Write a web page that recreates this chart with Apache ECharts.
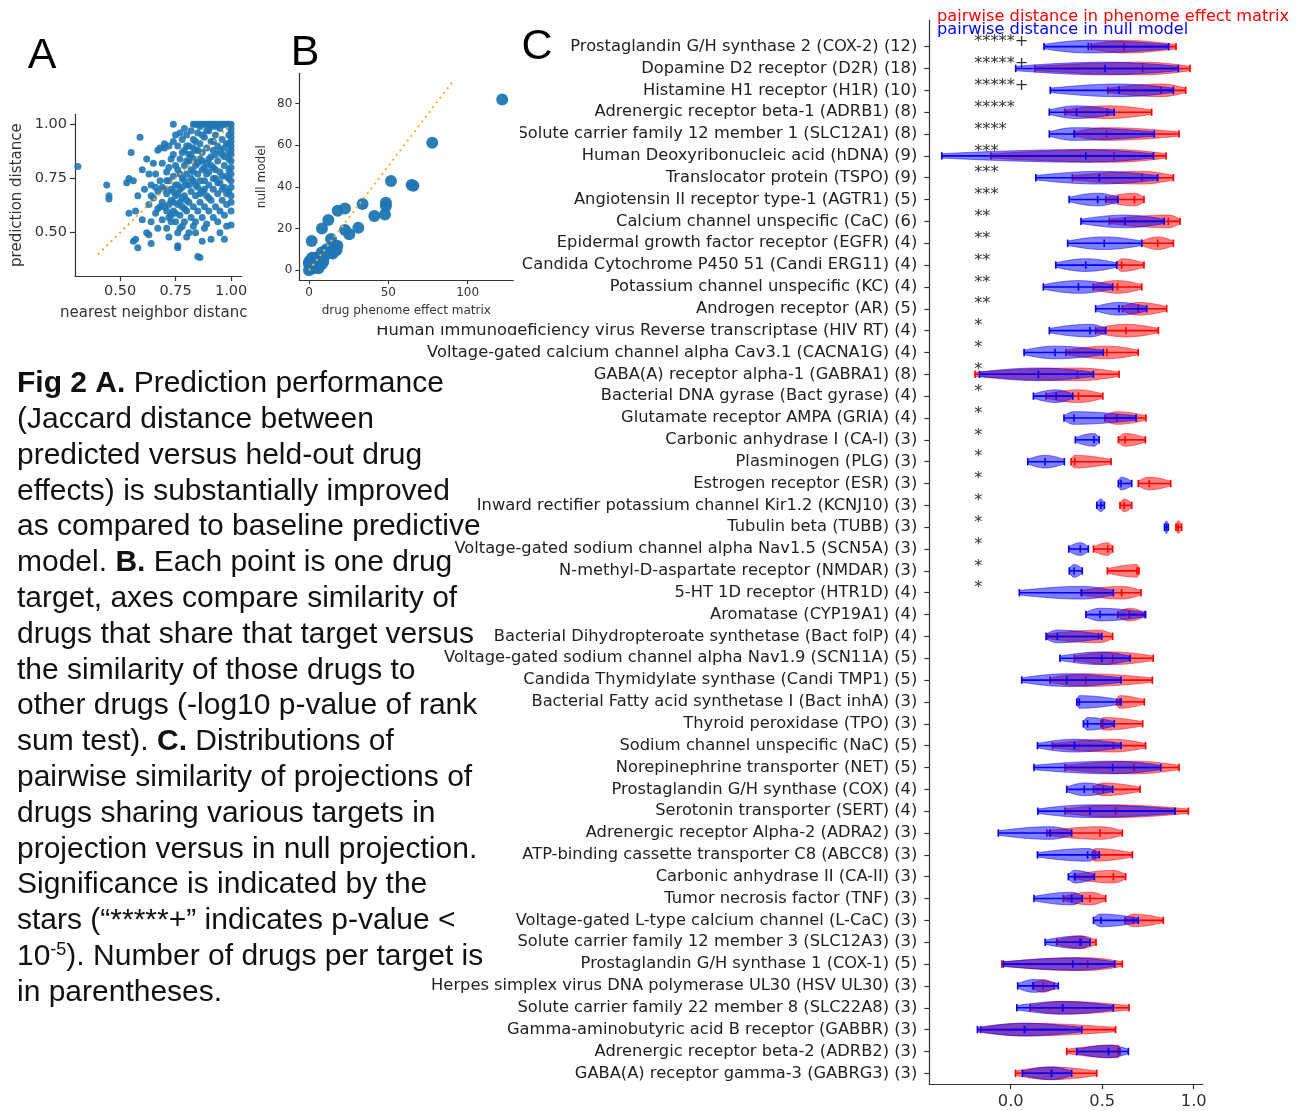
<!DOCTYPE html>
<html><head><meta charset="utf-8">
<script src="https://cdn.jsdelivr.net/npm/echarts@6/dist/echarts.min.js"></script>
<style>html,body{margin:0;padding:0;background:#fff}#c{width:1297px;height:1111px}</style>
</head><body><div id="c"></div>
<script>
// ---------- Panel A data: [nearest neighbor distance, prediction distance]
const panelA = [
[0.83,1.00],[0.84,1.00],[0.85,1.00],[0.86,1.00],[0.87,1.00],[0.88,1.00],[0.89,1.00],[0.90,1.00],[0.91,1.00],[0.92,1.00],[0.93,1.00],[0.94,1.00],[0.95,1.00],[0.96,1.00],[0.97,1.00],[0.98,1.00],[0.99,1.00],[1.00,1.00],
[1.00,0.98],[1.00,0.96],[1.00,0.94],[1.00,0.92],[1.00,0.90],[1.00,0.88],[1.00,0.86],[1.00,0.83],[1.00,0.80],[1.00,0.77],[1.00,0.74],[1.00,0.71],[1.00,0.67],[1.00,0.64],[1.00,0.60],[1.00,0.535],
[0.99,0.99],[0.99,0.95],[0.99,0.91],[0.99,0.87],[0.99,0.79],[0.99,0.75],[0.99,0.69],
[0.70,0.62],[0.71,0.68],[0.71,0.74],[0.72,0.57],[0.72,0.80],[0.73,0.65],[0.73,0.70],[0.74,0.60],[0.74,0.76],[0.74,0.86],[0.75,0.55],[0.75,0.67],[0.75,0.72],[0.76,0.63],[0.76,0.79],[0.76,0.90],[0.77,0.58],[0.77,0.70],[0.77,0.84],[0.78,0.62],[0.78,0.75],[0.78,0.93],[0.79,0.55],[0.79,0.67],[0.79,0.81],[0.79,0.88],[0.80,0.60],[0.80,0.72],[0.80,0.77],[0.80,0.95],[0.81,0.64],[0.81,0.83],[0.81,0.90],[0.82,0.57],[0.82,0.69],[0.82,0.79],[0.82,0.86],[0.83,0.62],[0.83,0.74],[0.83,0.93],[0.84,0.55],[0.84,0.67],[0.84,0.81],[0.84,0.88],[0.85,0.60],[0.85,0.71],[0.85,0.77],[0.85,0.96],[0.86,0.64],[0.86,0.84],[0.86,0.91],[0.87,0.57],[0.87,0.69],[0.87,0.79],[0.87,0.87],[0.88,0.62],[0.88,0.74],[0.88,0.94],[0.89,0.54],[0.89,0.67],[0.89,0.82],[0.89,0.89],[0.90,0.60],[0.90,0.72],[0.90,0.78],[0.90,0.97],[0.91,0.65],[0.91,0.85],[0.91,0.92],[0.92,0.57],[0.92,0.70],[0.92,0.80],[0.92,0.88],[0.93,0.62],[0.93,0.75],[0.93,0.95],[0.94,0.55],[0.94,0.68],[0.94,0.83],[0.94,0.90],[0.95,0.60],[0.95,0.73],[0.95,0.78],[0.95,0.98],[0.96,0.65],[0.96,0.86],[0.96,0.93],[0.97,0.58],[0.97,0.71],[0.97,0.81],[0.98,0.63],[0.98,0.76],[0.98,0.91],
[0.55,0.87],[0.56,0.74],[0.57,0.60],[0.58,0.67],[0.59,0.94],[0.60,0.56],[0.60,0.79],[0.61,0.70],[0.62,0.84],[0.62,0.50],[0.63,0.63],[0.63,0.77],[0.64,0.55],[0.64,0.72],[0.65,0.66],[0.65,0.82],[0.66,0.59],[0.66,0.77],[0.67,0.52],[0.67,0.69],[0.67,0.88],[0.68,0.62],[0.68,0.74],[0.69,0.56],[0.69,0.82],[0.70,0.89],[0.71,0.52],[0.72,0.90],[0.73,0.55],[0.75,0.95],[0.76,0.50],[0.78,0.53],[0.81,0.50],[0.83,0.53],
[0.44,0.72],[0.45,0.67],[0.45,0.655],[0.53,0.73],[0.54,0.75],[0.54,0.59],[0.56,0.46],[0.57,0.47],[0.58,0.43],[0.63,0.49],[0.64,0.45],[0.72,0.48],[0.76,0.44],[0.76,0.43],[0.77,0.52],[0.80,0.48],[0.84,0.50],[0.85,0.39],[0.86,0.385],[0.87,0.46],[0.88,0.52],[0.91,0.47],[0.95,0.50],[0.97,0.47],[0.98,0.53],[0.31,0.805],[0.74,1.00],[0.68,0.89],[0.70,0.91],[0.74,0.92],[0.77,0.96],[0.79,0.98],
[0.72,0.63],[0.74,0.69],[0.76,0.72],[0.78,0.66],[0.80,0.83],[0.83,0.84],[0.85,0.82],[0.86,0.74],[0.88,0.80],[0.90,0.84],[0.92,0.92],[0.93,0.86],[0.96,0.76],[0.97,0.89],[0.99,0.84],[0.87,0.95],[0.89,0.97],[0.91,0.99],[0.93,0.99],[0.82,0.97],[0.84,0.92],[0.86,0.99],[0.80,0.90],[0.78,0.87],[0.83,0.78],[0.81,0.72],[0.79,0.61],[0.77,0.64],[0.75,0.59],[0.73,0.58],[0.71,0.60],[0.69,0.64],[0.67,0.61],[0.66,0.71],[0.64,0.67],
[0.70,0.70],[0.72,0.74],[0.74,0.64],[0.76,0.68],[0.78,0.71],[0.80,0.65],[0.82,0.75],[0.84,0.72],[0.86,0.68],[0.88,0.70],[0.90,0.66],[0.92,0.75],[0.94,0.73],[0.96,0.70],[0.98,0.68],[0.85,0.88],[0.87,0.83],[0.89,0.77],[0.91,0.81],[0.93,0.79],[0.95,0.88],[0.97,0.85],[0.83,0.89],[0.81,0.86],[0.79,0.74],[0.77,0.77],[0.75,0.81],[0.73,0.84],[0.71,0.78],[0.69,0.71]
];
const diagA = [[0.4,0.4],[1.0,1.0]];

// ---------- Panel B data: [drug phenome effect matrix, null model]
const panelB = [
[121.8,81.9],[77.7,61.2],[64.7,40.9],[65.8,40.6],[51.7,42.8],[48.5,32.4],[48.5,30.8],[47.9,26.8],[41.2,26.0],[33.8,31.8],[31.1,20.4],[22.7,19.3],[25.4,17.3],[22.7,29.7],[18.1,28.6],[12.2,24.1],[8.2,20.1],[1.7,14.1],[17.9,11.8],[17.4,9.7],[14.9,8.9],[11.1,10.1],[10.1,9.3],[13.9,15.0],[8.0,8.5],
[0,0],[0,3],[0,4],[1,5],[2,2],[2,6],[3,4],[4,6],[5,2],[6,3],[7,5],[8,3],[1,1],[3,1],[4,3],[6,1],[9,4],[10,7],[12,9],[15,8],[17,10],[16,12]
];
const diagB = [[0,0],[90,90]];

// ---------- Panel C data
const targets = [
"Prostaglandin G/H synthase 2 (COX-2) (12)","Dopamine D2 receptor (D2R) (18)","Histamine H1 receptor (H1R) (10)","Adrenergic receptor beta-1 (ADRB1) (8)",
"Solute carrier family 12 member 1 (SLC12A1) (8)","Human Deoxyribonucleic acid (hDNA) (9)","Translocator protein (TSPO) (9)","Angiotensin II receptor type-1 (AGTR1) (5)",
"Calcium channel unspecific (CaC) (6)","Epidermal growth factor receptor (EGFR) (4)","Candida Cytochrome P450 51 (Candi ERG11) (4)","Potassium channel unspecific (KC) (4)",
"Androgen receptor (AR) (5)","Human immunodeficiency virus Reverse transcriptase (HIV RT) (4)","Voltage-gated calcium channel alpha Cav3.1 (CACNA1G) (4)","GABA(A) receptor alpha-1 (GABRA1) (8)",
"Bacterial DNA gyrase (Bact gyrase) (4)","Glutamate receptor AMPA (GRIA) (4)","Carbonic anhydrase I (CA-I) (3)","Plasminogen (PLG) (3)",
"Estrogen receptor (ESR) (3)","Inward rectifier potassium channel Kir1.2 (KCNJ10) (3)","Tubulin beta (TUBB) (3)","Voltage-gated sodium channel alpha Nav1.5 (SCN5A) (3)",
"N-methyl-D-aspartate receptor (NMDAR) (3)","5-HT 1D receptor (HTR1D) (4)","Aromatase (CYP19A1) (4)","Bacterial Dihydropteroate synthetase (Bact folP) (4)",
"Voltage-gated sodium channel alpha Nav1.9 (SCN11A) (5)","Candida Thymidylate synthase (Candi TMP1) (5)","Bacterial Fatty acid synthetase I (Bact inhA) (3)","Thyroid peroxidase (TPO) (3)",
"Sodium channel unspecific (NaC) (5)","Norepinephrine transporter (NET) (5)","Prostaglandin G/H synthase (COX) (4)","Serotonin transporter (SERT) (4)",
"Adrenergic receptor Alpha-2 (ADRA2) (3)","ATP-binding cassette transporter C8 (ABCC8) (3)","Carbonic anhydrase II (CA-II) (3)","Tumor necrosis factor (TNF) (3)",
"Voltage-gated L-type calcium channel (L-CaC) (3)","Solute carrier family 12 member 3 (SLC12A3) (3)","Prostaglandin G/H synthase 1 (COX-1) (5)","Herpes simplex virus DNA polymerase UL30 (HSV UL30) (3)",
"Solute carrier family 22 member 8 (SLC22A8) (3)","Gamma-aminobutyric acid B receptor (GABBR) (3)","Adrenergic receptor beta-2 (ADRB2) (3)","GABA(A) receptor gamma-3 (GABRG3) (3)"
];
const stars = ["*****+","*****+","*****+","*****","****","***","***","***","**","**","**","**","**",
"*","*","*","*","*","*","*","*","*","*","*","*","*"];

const nullMin = [0.182,0.027,0.216,0.211,0.211,-0.377,0.137,0.319,0.384,0.311,0.246,0.178,0.464,0.211,0.073,-0.171,0.124,0.291,0.353,0.093,0.588,0.470,0.840,0.317,0.320,0.047,0.411,0.193,0.269,0.060,0.361,0.397,0.146,0.127,0.306,0.148,-0.068,0.146,0.315,0.127,0.452,0.188,-0.040,0.038,0.033,-0.182,0.361,0.064];
const nullMed = [0.424,0.515,0.592,0.360,0.346,0.410,0.484,0.475,0.625,0.511,0.410,0.370,0.592,0.433,0.242,0.151,0.248,0.346,0.455,0.187,0.603,0.493,0.850,0.380,0.346,0.388,0.488,0.255,0.497,0.306,0.375,0.420,0.348,0.557,0.402,0.433,0.215,0.420,0.351,0.333,0.493,0.379,0.339,0.124,0.284,0.075,0.534,0.224];
const nullMax = [0.863,0.916,0.889,0.565,0.785,0.780,0.803,0.586,0.839,0.716,0.579,0.557,0.743,0.519,0.506,0.452,0.339,0.685,0.483,0.293,0.661,0.512,0.861,0.424,0.391,0.561,0.737,0.497,0.652,0.603,0.603,0.566,0.603,0.820,0.557,0.898,0.333,0.484,0.457,0.391,0.697,0.433,0.568,0.260,0.561,0.388,0.643,0.333];
const phenMin = [0.440,0.133,0.530,0.297,0.350,-0.108,0.337,0.519,0.539,0.716,0.579,0.451,0.610,0.464,0.302,-0.195,0.193,0.515,0.588,0.330,0.697,0.597,0.903,0.452,0.528,0.385,0.585,0.197,0.348,0.215,0.579,0.493,0.228,0.297,0.452,0.297,0.197,0.446,0.348,0.288,0.625,0.251,-0.049,0.120,0.106,-0.164,0.306,0.026];
const phenMed = [0.619,0.721,0.820,0.528,0.524,0.565,0.716,0.676,0.861,0.803,0.606,0.583,0.697,0.630,0.525,0.364,0.370,0.579,0.625,0.350,0.757,0.620,0.915,0.530,0.690,0.606,0.648,0.479,0.557,0.410,0.595,0.503,0.561,0.674,0.506,0.573,0.488,0.460,0.561,0.433,0.670,0.385,0.420,0.178,0.284,0.075,0.588,0.220];
const phenMax = [0.903,0.980,0.956,0.770,0.920,0.849,0.889,0.728,0.925,0.889,0.728,0.716,0.852,0.807,0.697,0.592,0.503,0.739,0.736,0.548,0.874,0.661,0.934,0.557,0.701,0.712,0.733,0.557,0.779,0.774,0.730,0.721,0.737,0.920,0.707,0.971,0.610,0.665,0.628,0.519,0.834,0.466,0.610,0.238,0.646,0.573,0.597,0.470];

const ticksA = [0.5,0.75,1.0];
const ticksBx = [0,50,100];
const ticksBy = [0,20,40,60,80];
const ticksC = [0,0.5,1.0];

const caption = [
"{b|Fig 2 A.} Prediction performance",
"(Jaccard distance between",
"predicted versus held-out drug",
"effects) is substantially improved",
"as compared to baseline predictive",
"model. {b|B.} Each point is one drug",
"target, axes compare similarity of",
"drugs that share that target versus",
"the similarity of those drugs to",
"other drugs (-log10 p-value of rank",
"sum test). {b|C.} Distributions of",
"pairwise similarity of projections of",
"drugs sharing various targets in",
"projection versus in null projection.",
"Significance is indicated by the",
"stars (\u201c*****+\u201d indicates p-value <",
"10{sup|-5}). Number of drugs per target is",
"in parentheses."
];

// ---------- rendering
const DJ = 'DejaVu Sans';
const LS = 'Liberation Sans, Arial, sans-serif';
const AX = '#333';
const LBL = 16.3;
const rowIdx = targets.map((_, i) => i);
const nullData = targets.map((_, i) => [i, nullMin[i], nullMed[i], nullMax[i]]);
const phenData = targets.map((_, i) => [i, phenMin[i], phenMed[i], phenMax[i]]);
const starData = stars.map((s, i) => [i, 0]);

function violin(line, fill) {
  return function (params, api) {
    const r = api.value(0), mn = api.value(1), md = api.value(2), mx = api.value(3);
    const hw = api.size([0, 0.29])[1];
    const cap = api.size([0, 0.17])[1];
    const N = 40, top = [], bot = [];
    for (let k = 0; k <= N; k++) {
      const v = mn + (mx - mn) * k / N;
      let u;
      if (v <= md) u = md > mn ? (v - mn) / (md - mn) : 1;
      else u = mx > md ? (mx - v) / (mx - md) : 1;
      const w = hw * (0.35 + 0.65 * Math.sin(Math.min(1, u) * Math.PI / 2));
      const p = api.coord([v, r]);
      top.push([p[0], p[1] - w]);
      bot.push([p[0], p[1] + w]);
    }
    const pts = top.concat(bot.reverse());
    const a = api.coord([mn, r]), b = api.coord([mx, r]), m = api.coord([md, r]);
    const ls = { stroke: line, lineWidth: 1.6 };
    return { type: 'group', children: [
      { type: 'polygon', shape: { points: pts, smooth: 0 }, style: { fill: fill, stroke: fill, lineWidth: 1 } },
      { type: 'line', shape: { x1: a[0], y1: a[1], x2: b[0], y2: b[1] }, style: ls },
      { type: 'line', shape: { x1: a[0], y1: a[1] - cap, x2: a[0], y2: a[1] + cap }, style: ls },
      { type: 'line', shape: { x1: b[0], y1: b[1] - cap, x2: b[0], y2: b[1] + cap }, style: ls },
      { type: 'line', shape: { x1: m[0], y1: m[1] - cap, x2: m[0], y2: m[1] + cap }, style: ls }
    ]};
  };
}

const STAR_X = -0.2;
function starRender(params, api) {
  const p = api.coord([STAR_X, api.value(0)]);
  return { type: 'text', x: p[0], y: p[1] + 3.5,
    style: { text: stars[params.dataIndex], fill: '#333', fontSize: LBL, fontFamily: DJ, align: 'left', verticalAlign: 'bottom' } };
}

function valAxis(o) {
  return Object.assign({
    type: 'value', splitLine: { show: false },
    axisLine: { show: true, onZero: false, lineStyle: { color: AX, width: 1.2 } },
    axisTick: { show: true, length: 5, lineStyle: { color: AX, width: 1.2 } },
  }, o);
}

const graphics = [];
caption.forEach((t, i) => {
  graphics.push({ type: 'text', x: 17, y: 384 + i * 35.8, z: 1,
    style: { text: t, fill: '#111', fontSize: 30, fontFamily: LS, verticalAlign: 'middle', align: 'left',
      rich: { b: { fontWeight: 'bold', fontSize: 30, fontFamily: LS, fill: '#111' },
              sup: { fontSize: 18, fontFamily: LS, fill: '#111', verticalAlign: 'top', padding: [0, 0, 13, 0] } } } });
});
graphics.push({ type: 'text', x: 42, y: 56, style: { text: 'A', fontSize: 43, fontFamily: LS, fill: '#000', align: 'center', verticalAlign: 'middle' } });
graphics.push({ type: 'text', x: 305, y: 53, z: 8, style: { text: 'B', fontSize: 43, fontFamily: LS, fill: '#000', align: 'center', verticalAlign: 'middle' } });
graphics.push({ type: 'text', x: 537, y: 47, style: { text: 'C', fontSize: 43, fontFamily: LS, fill: '#000', align: 'center', verticalAlign: 'middle' } });
// white backdrop of panel B image (covers overlapping labels)
graphics.push({ type: 'rect', shape: { x: 247, y: 0, width: 273, height: 326 }, z: 5, style: { fill: '#fff' } });
graphics.push({ type: 'text', x: 937, y: 17, z: 3, style: { text: 'pairwise distance in phenome effect matrix', fill: '#ff0000', fontSize: 16.2, fontFamily: DJ, verticalAlign: 'middle' } });
graphics.push({ type: 'text', x: 937, y: 30, z: 4, style: { text: 'pairwise distance in null model', fill: '#0000ff', fontSize: 16.2, fontFamily: DJ, verticalAlign: 'middle' } });

const option = {
  animation: false,
  backgroundColor: '#fff',
  grid: [
    { left: 75, top: 114.3, width: 166.7, height: 161.7 },
    { left: 299.3, top: 73.3, width: 214, height: 206.7 },
    { left: 929.3, top: 20, width: 273.4, height: 1064 }
  ],
  xAxis: [
    valAxis({ gridIndex: 0, min: 0.297, max: 1.048, z: 1,
      name: 'nearest neighbor distance', nameLocation: 'middle', nameGap: 30,
      nameTextStyle: { fontSize: 15, fontFamily: DJ, color: '#333' },
      axisTick: { show: true, length: 5, customValues: ticksA, lineStyle: { color: AX, width: 1.2 } },
      axisLabel: { customValues: ticksA, fontSize: 14.5, fontFamily: DJ, color: '#333', margin: 8, formatter: v => v.toFixed(2) } }),
    valAxis({ gridIndex: 1, min: -6.1, max: 128.8, z: 6,
      name: 'drug phenome effect matrix', nameLocation: 'middle', nameGap: 25,
      nameTextStyle: { fontSize: 12, fontFamily: DJ, color: '#333' },
      axisTick: { show: true, length: 4, customValues: ticksBx, lineStyle: { color: AX, width: 1 } },
      axisLabel: { customValues: ticksBx, fontSize: 12, fontFamily: DJ, color: '#333', margin: 7 } }),
    valAxis({ gridIndex: 2, min: -0.445, max: 1.049, z: 1,
      axisTick: { show: true, length: 5, customValues: ticksC, lineStyle: { color: AX, width: 1.2 } },
      axisLabel: { customValues: ticksC, fontSize: LBL, fontFamily: DJ, color: '#333', margin: 10, formatter: v => v.toFixed(1) } })
  ],
  yAxis: [
    valAxis({ gridIndex: 0, min: 0.30, max: 1.046, z: 1,
      name: 'prediction distance', nameLocation: 'middle', nameGap: 50, nameRotate: 90,
      nameTextStyle: { fontSize: 15, fontFamily: DJ, color: '#333' },
      axisTick: { show: true, length: 5, customValues: ticksA, lineStyle: { color: AX, width: 1.2 } },
      axisLabel: { customValues: ticksA, fontSize: 14.5, fontFamily: DJ, color: '#333', margin: 8, formatter: v => v.toFixed(2) } }),
    valAxis({ gridIndex: 1, min: -4.65, max: 94.5, z: 6,
      name: 'null model', nameLocation: 'middle', nameGap: 31, nameRotate: 90,
      nameTextStyle: { fontSize: 12, fontFamily: DJ, color: '#333' },
      axisTick: { show: true, length: 4, customValues: ticksBy, lineStyle: { color: AX, width: 1 } },
      axisLabel: { customValues: ticksBy, fontSize: 12, fontFamily: DJ, color: '#333', margin: 7 } }),
    valAxis({ gridIndex: 2, min: -1.22, max: 47.49, inverse: true, z: 1,
      axisTick: { show: true, length: 5, customValues: rowIdx, lineStyle: { color: AX, width: 1.2 } },
      axisLabel: { customValues: rowIdx, fontSize: LBL, fontFamily: DJ, color: '#222', margin: 12, padding: [4, 0, 0, 0],
        formatter: v => targets[Math.round(v)] } })
  ],
  graphic: { elements: graphics },
  series: [
    { type: 'scatter', xAxisIndex: 0, yAxisIndex: 0, data: panelA, symbolSize: 7, z: 2,
      itemStyle: { color: '#1f77b4', opacity: 0.9 } },
    { type: 'line', xAxisIndex: 0, yAxisIndex: 0, data: diagA, showSymbol: false, z: 3,
      lineStyle: { color: '#ffa020', width: 2, type: [2, 4] } },
    { type: 'scatter', xAxisIndex: 1, yAxisIndex: 1, data: panelB, symbolSize: 12, z: 7,
      itemStyle: { color: '#1f77b4', opacity: 0.95 } },
    { type: 'line', xAxisIndex: 1, yAxisIndex: 1, data: diagB, showSymbol: false, z: 8,
      lineStyle: { color: '#ffb030', width: 2, type: [2, 4] } },
    { type: 'custom', xAxisIndex: 2, yAxisIndex: 2, data: phenData, encode: { x: [1, 2, 3], y: 0 }, z: 2,
      renderItem: violin('#ff0000', 'rgba(255,0,0,0.5)') },
    { type: 'custom', xAxisIndex: 2, yAxisIndex: 2, data: nullData, encode: { x: [1, 2, 3], y: 0 }, z: 3,
      renderItem: violin('#0000ff', 'rgba(0,0,255,0.5)') },
    { type: 'custom', xAxisIndex: 2, yAxisIndex: 2, data: starData, encode: { x: 1, y: 0 }, z: 4,
      renderItem: starRender }
  ]
};
const chart = echarts.init(document.getElementById('c'), null, { renderer: 'canvas' });
chart.setOption(option);
</script></body></html>
